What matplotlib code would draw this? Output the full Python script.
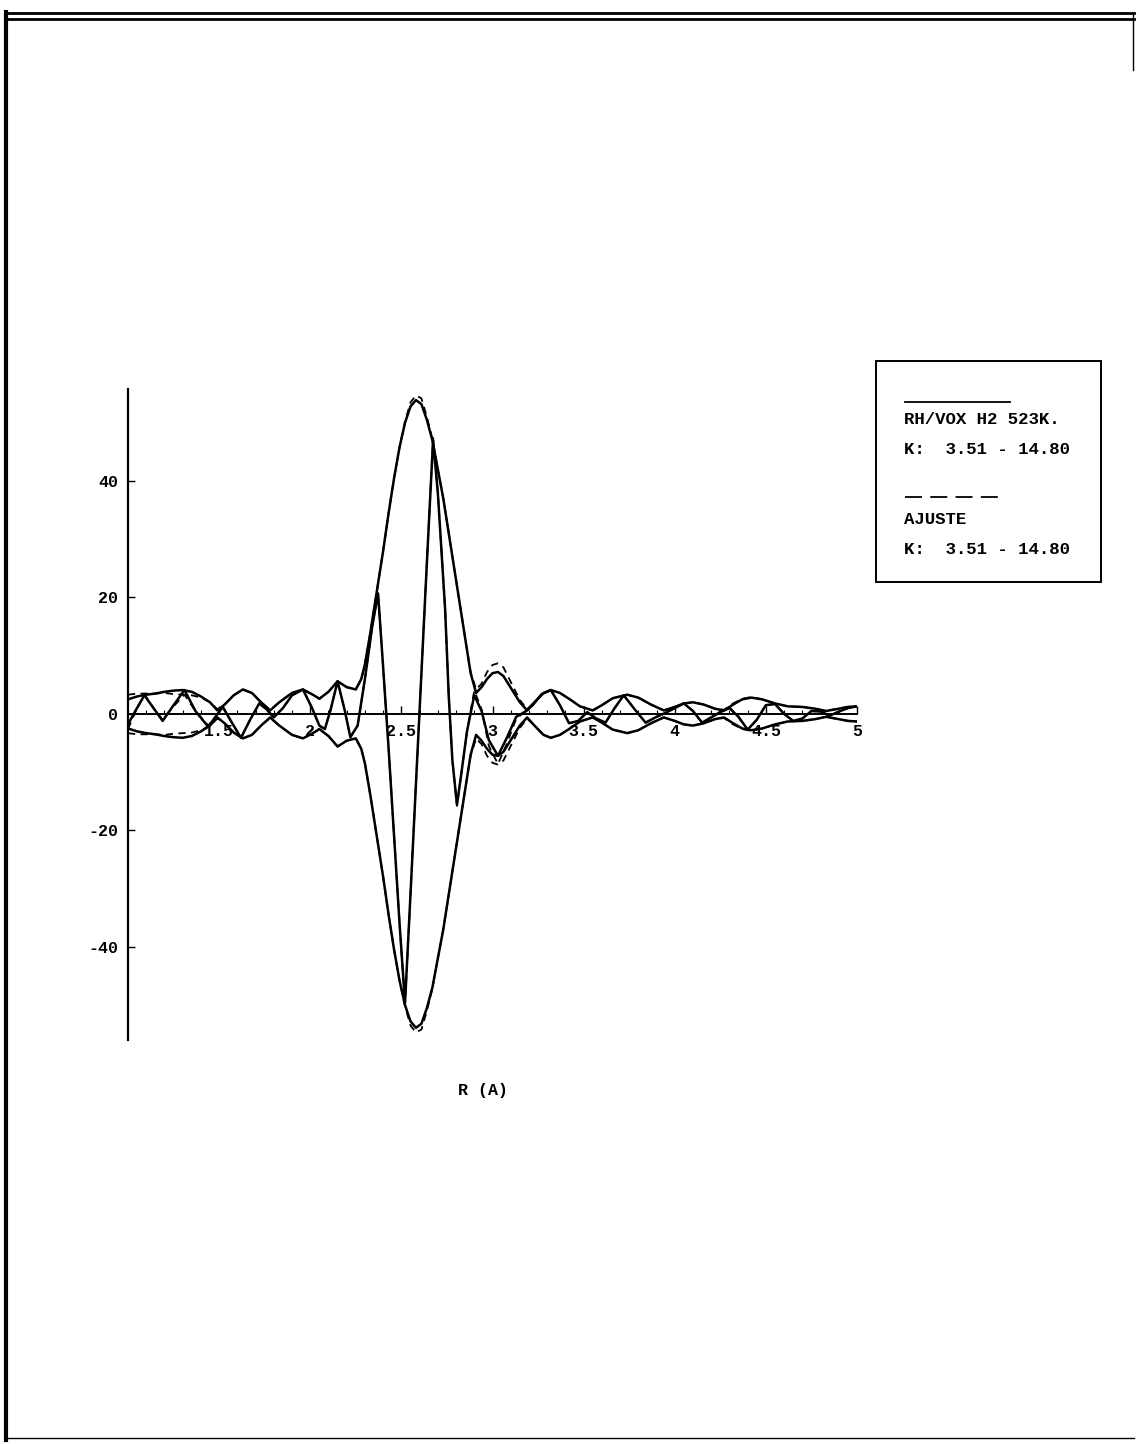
import matplotlib
matplotlib.use("Agg")
import matplotlib.pyplot as plt
from matplotlib.lines import Line2D
from matplotlib.patches import Rectangle
from matplotlib.ticker import MultipleLocator

plt.rcParams['font.family'] = ['Liberation Mono', 'DejaVu Sans Mono']
plt.rcParams['font.weight'] = 'bold'

# |FT| envelope, experiment and fit
r_mag = [1.00, 1.05, 1.10, 1.15, 1.20, 1.25, 1.30, 1.35, 1.40, 1.45,
         1.49, 1.53, 1.58, 1.63, 1.68, 1.73, 1.78, 1.83, 1.90, 1.96,
         2.02, 2.05, 2.10, 2.15, 2.20, 2.25, 2.28, 2.30, 2.33, 2.36,
         2.40, 2.43, 2.46, 2.49, 2.52, 2.55, 2.58, 2.61, 2.64, 2.67,
         2.70, 2.73, 2.76, 2.79, 2.82, 2.85, 2.88, 2.91, 2.94, 2.97,
         3.00, 3.03, 3.06, 3.10, 3.15, 3.19, 3.23, 3.28, 3.32, 3.37,
         3.42, 3.48, 3.55, 3.60, 3.66, 3.74, 3.80, 3.87, 3.94, 4.00,
         4.05, 4.10, 4.16, 4.22, 4.27, 4.32, 4.37, 4.42, 4.48, 4.55,
         4.62, 4.70, 4.77, 4.83, 4.90, 4.95, 5.00]
mag_exp = [2.5, 3.0, 3.3, 3.5, 3.8, 4.0, 4.1, 3.8, 3.0, 2.0,
           0.6, 1.6, 3.2, 4.2, 3.6, 2.0, 0.6, 2.0, 3.6, 4.2,
           3.2, 2.6, 3.8, 5.6, 4.6, 4.2, 6.0, 8.5, 14.0, 20.0,
           28.0, 34.5, 40.5, 45.8, 50.0, 52.8, 53.9, 53.2, 50.5, 47.0,
           42.0, 37.0, 31.0, 25.0, 19.0, 13.0, 7.0, 3.6, 4.6, 6.0,
           7.0, 7.2, 6.5, 4.5, 2.0, 0.6, 2.0, 3.6, 4.1, 3.6,
           2.6, 1.3, 0.6, 1.5, 2.7, 3.3, 2.8, 1.6, 0.6, 1.2,
           1.8, 2.0, 1.6, 0.9, 0.6, 1.6, 2.5, 2.8, 2.5, 1.8,
           1.3, 1.2, 0.9, 0.5, 0.9, 1.2, 1.3]
mag_fit = [3.3, 3.5, 3.5, 3.5, 3.6, 3.4, 3.3, 3.2, 2.8, 2.0,
           0.8, 1.6, 3.2, 4.2, 3.6, 2.0, 0.7, 2.0, 3.6, 4.2,
           3.2, 2.6, 3.8, 5.6, 4.6, 4.2, 6.0, 8.5, 14.0, 20.0,
           28.0, 34.5, 40.5, 45.8, 50.2, 53.5, 54.7, 54.2, 51.0, 47.2,
           42.0, 37.0, 31.0, 25.0, 19.0, 13.0, 7.2, 4.2, 5.2, 7.2,
           8.4, 8.7, 8.0, 5.5, 2.4, 0.8, 2.0, 3.6, 4.1, 3.6,
           2.6, 1.3, 0.6, 1.5, 2.7, 3.3, 2.8, 1.6, 0.6, 1.2,
           1.8, 2.0, 1.6, 0.9, 0.7, 1.8, 2.6, 2.9, 2.5, 1.8,
           1.3, 1.2, 0.9, 0.5, 0.9, 1.2, 1.3]

# imaginary part, experiment and fit
r_im = [1.00, 1.04, 1.09, 1.14, 1.19, 1.25, 1.31, 1.37, 1.44, 1.48,
        1.52, 1.57, 1.62, 1.67, 1.72, 1.76, 1.80, 1.85, 1.90, 1.96,
        2.01, 2.05, 2.08, 2.11, 2.15, 2.19, 2.22, 2.26, 2.30, 2.34,
        2.372, 2.40, 2.43, 2.46, 2.49, 2.52, 2.55, 2.58, 2.61, 2.64,
        2.674, 2.70, 2.72, 2.74, 2.76, 2.78, 2.805, 2.83, 2.86, 2.90,
        2.94, 2.98, 3.03, 3.08, 3.13, 3.18, 3.22, 3.27, 3.32, 3.37,
        3.42, 3.47, 3.52, 3.57, 3.62, 3.67, 3.72, 3.78, 3.84, 3.90,
        3.95, 4.00, 4.05, 4.10, 4.15, 4.20, 4.25, 4.30, 4.35, 4.40,
        4.45, 4.50, 4.55, 4.60, 4.65, 4.70, 4.75, 4.80, 4.85, 4.90,
        4.95, 5.00]
im_exp = [-1.8, 0.5, 3.2, 1.0, -1.2, 1.5, 4.1, 0.5, -2.2, -0.5,
          1.2, -1.5, -4.1, -1.0, 1.8, 0.8, -0.6, 1.0, 3.2, 4.2,
          1.0, -2.0, -2.6, 0.5, 5.6, 0.5, -4.0, -2.0, 6.0, 15.0,
          20.7, 8.0, -6.0, -21.0, -36.0, -49.6, -31.0, -12.0, 7.0, 26.0,
          47.0, 38.0, 28.0, 18.0, 3.0, -8.0, -15.6, -10.0, -3.0, 3.2,
          0.5, -4.5, -7.2, -4.0, -0.5, 0.4, 1.5, 3.4, 4.1, 1.5,
          -1.6, -1.2, 0.3, -0.8, -1.5, 1.0, 3.2, 0.8, -1.5, -0.5,
          0.2, 1.0, 1.8, 0.5, -1.5, -0.6, 0.3, 1.0, -0.5, -2.7,
          -1.0, 1.5, 1.7, 0.0, -1.2, -0.8, 0.5, 0.4, -0.3, 0.4,
          1.0, 1.3]
im_fit = [-2.6, 0.3, 3.4, 1.0, -1.0, 1.3, 3.3, 0.5, -2.0, -0.5,
          1.2, -1.5, -4.1, -1.0, 1.8, 0.8, -0.6, 1.0, 3.2, 4.2,
          1.0, -2.0, -2.6, 0.5, 5.6, 0.5, -4.0, -2.0, 6.0, 15.0,
          20.7, 8.0, -6.0, -21.0, -36.0, -50.0, -31.0, -12.0, 7.0, 26.0,
          47.4, 38.0, 28.0, 18.0, 3.0, -8.0, -15.8, -10.0, -3.0, 4.0,
          0.8, -5.5, -8.6, -5.0, -0.8, 0.4, 1.5, 3.4, 4.1, 1.5,
          -1.6, -1.2, 0.3, -0.8, -1.5, 1.0, 3.2, 0.8, -1.5, -0.5,
          0.2, 1.0, 1.8, 0.5, -1.5, -0.6, 0.4, 1.2, -0.6, -2.8,
          -1.0, 1.5, 1.7, 0.0, -1.2, -0.8, 0.5, 0.4, -0.3, 0.4,
          1.0, 1.3]

x_ticks = [1.5, 2, 2.5, 3, 3.5, 4, 4.5, 5]
x_ticklabels = ['1.5', '2', '2.5', '3', '3.5', '4', '4.5', '5']
y_ticks = [-40, -20, 0, 20, 40]
y_ticklabels = ['-40', '-20', '0', '20', '40']

legend_lines = ['RH/VOX H2 523K.', 'K:  3.51 - 14.80', 'AJUSTE', 'K:  3.51 - 14.80']

W, H = 1136, 1444


def fx(x):
    return x / W


def fy(y):
    return 1 - y / H


fig = plt.figure(figsize=(W / 100, H / 100), dpi=100)
ax = fig.add_axes([fx(128), fy(1040), fx(857) - fx(128), (1040 - 389) / H])
ax.set_xlim(1, 5)
ax.set_ylim(-56, 55.8)

lw = 1.8
dash = (0, (4, 3))
ax.plot(r_mag, mag_exp, color='black', lw=lw)
ax.plot(r_mag, [-m for m in mag_exp], color='black', lw=lw)
ax.plot(r_im, im_exp, color='black', lw=lw)
ax.plot(r_mag, mag_fit, color='black', lw=1.3, ls=dash)
ax.plot(r_mag, [-m for m in mag_fit], color='black', lw=1.3, ls=dash)
ax.plot(r_im, im_fit, color='black', lw=1.3, ls=dash)

for s in ['top', 'right']:
    ax.spines[s].set_visible(False)
ax.spines['bottom'].set_position(('data', 0))
ax.spines['bottom'].set_linewidth(1.4)
ax.spines['left'].set_linewidth(1.6)
ax.spines['bottom'].set_zorder(0)

ax.set_xticks(x_ticks)
ax.set_xticklabels(x_ticklabels)
ax.xaxis.set_minor_locator(MultipleLocator(0.1))
ax.set_yticks(y_ticks)
ax.set_yticklabels(y_ticklabels)
ax.tick_params(axis='x', which='major', direction='in', length=6, width=1.0,
               pad=7, labelsize=12)
ax.tick_params(axis='x', which='minor', direction='in', length=3, width=0.8)
ax.tick_params(axis='y', direction='in', length=5, width=1.0, pad=7, labelsize=12)

fig.text(fx(483), fy(1090), 'R (A)', ha='center', va='center', fontsize=12)

# legend box
fig.add_artist(Rectangle((fx(876), fy(582)), fx(1101) - fx(876), (582 - 361) / H,
                         transform=fig.transFigure, fill=False, lw=1.4, ec='black'))
fig.add_artist(Line2D([fx(905), fx(1010)], [fy(402), fy(402)],
                      transform=fig.transFigure, color='black', lw=1.3))
fig.add_artist(Line2D([fx(905), fx(998)], [fy(497), fy(497)],
                      transform=fig.transFigure, color='black', lw=1.3,
                      ls=(0, (9.4, 4.6))))
for text, y in zip(legend_lines, [420, 450, 520, 550]):
    fig.text(fx(904), fy(y), text, ha='left', va='center', fontsize=12.5)

# page frame
frame = [([6, 6], [12, 1440], 3.0),
         ([6, 1134], [13, 13], 2.0),
         ([8, 1134], [19, 19], 2.0),
         ([6, 1134], [1438, 1438], 1.0),
         ([1133, 1133], [13, 70], 1.0)]
for xs, ys, w in frame:
    fig.add_artist(Line2D([fx(v) for v in xs], [fy(v) for v in ys],
                          transform=fig.transFigure, color='black', lw=w))

fig.savefig('out.png', dpi=100)
